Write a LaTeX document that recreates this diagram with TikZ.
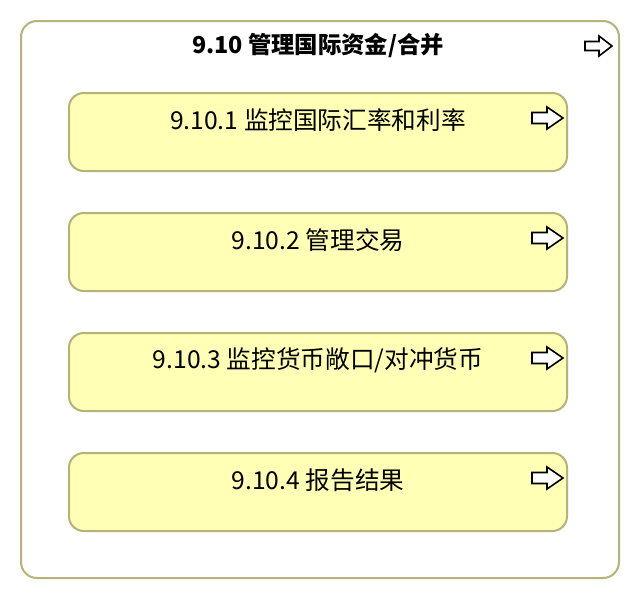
\documentclass[tikz,border=0pt]{standalone}
\usepackage{fontspec}
\usetikzlibrary{calc}
\setmainfont{Noto Sans CJK SC}
\begin{document}
\begin{tikzpicture}[x=0.75pt,y=-0.75pt,
  innerbox/.style={draw=boxline, line width=1.5pt, rounded corners=11pt, fill=boxfill,
    minimum width=373.5pt, minimum height=58.5pt, inner sep=0pt},
  lbl/.style={font=\fontsize{18.5}{20}\selectfont, inner sep=0pt, anchor=center},
  arrowicon/.style={draw=black, line width=1.2pt, fill=white, line join=miter}
]
\definecolor{boxfill}{HTML}{FFFFB5}
\definecolor{boxline}{HTML}{B3B37A}
\useasboundingbox (0,0) rectangle (640,600);
\draw[draw=boxline, line width=1.5pt, rounded corners=12pt, fill=white] (21,21) coordinate (outer) rectangle (619,578);
\node[lbl, font=\fontsize{17.5}{19}\selectfont\bfseries] (title) at (318,46) {9.10 管理国际资金/合并};
\foreach \i/\cy/\t in {1/132/{9.10.1 监控国际汇率和利率},2/252/{9.10.2 管理交易},3/372/{9.10.3 监控货币敞口/对冲货币},4/492/{9.10.4 报告结果}}{
  \node[innerbox] (box\i) at (318,\cy) {};
  \node[lbl] (txt\i) at ($(box\i.north)+(0,28)$) {\t};
  \draw[arrowicon] ($(box\i.north)+(214,20.5)$) coordinate (a\i)
    -- ++(15,0) -- ++(0,-5.5) -- ++(16,11) -- ++(-16,11) -- ++(0,-5.5) -- ++(-15,0) -- cycle;
}
\draw[arrowicon] (585,41.5) coordinate (a0) -- ++(14,0) -- ++(0,-5.5) -- ++(13,10) -- ++(-13,10) -- ++(0,-5.5) -- ++(-14,0) -- cycle;
\end{tikzpicture}
\end{document}
